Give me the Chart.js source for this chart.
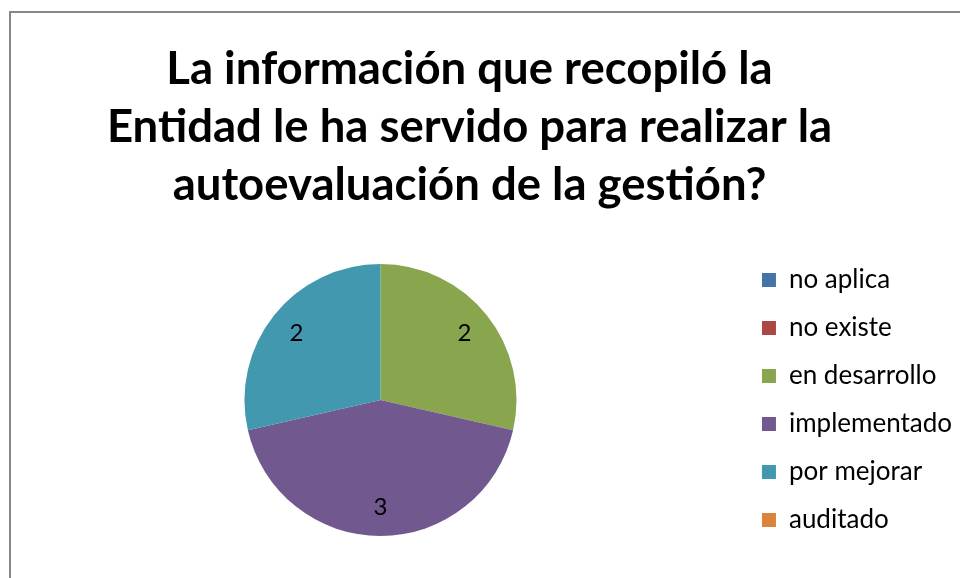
<!DOCTYPE html>
<html><head><meta charset="utf-8">
<script src="https://cdn.jsdelivr.net/npm/chart.js@4/dist/chart.umd.min.js"></script>
<style>
html,body{margin:0;padding:0;background:#fff;overflow:hidden;}
#wrap{position:relative;width:960px;height:578px;overflow:hidden;}
#frame{position:absolute;left:9px;top:11px;width:1000px;height:600px;border:2px solid #878787;box-sizing:border-box;pointer-events:none;}
#c{position:absolute;left:0;top:0;}
</style></head>
<body>
<div id="wrap"><canvas id="c" width="960" height="578"></canvas><div id="frame"></div></div>
<script>
const titleLines = ["La información que recopiló la", "Entidad le ha servido para realizar la", "autoevaluación de la gestión?"];
const categories = ["no aplica", "no existe", "en desarrollo", "implementado", "por mejorar", "auditado"];
const values = [0, 0, 2, 3, 2, 0];
const colors = ["#4572A7", "#AA4643", "#89A54E", "#71588F", "#4198AF", "#DB843D"];

const FONT = "Lato, 'Open Sans', sans-serif";

const dataLabels = {
  id: 'dataLabels',
  afterDatasetsDraw(chart) {
    const ctx = chart.ctx;
    const meta = chart.getDatasetMeta(0);
    ctx.save();
    ctx.font = "24px " + FONT;
    ctx.fillStyle = "#000";
    ctx.textAlign = "center";
    ctx.textBaseline = "middle";
    meta.data.forEach((arc, i) => {
      const v = chart.data.datasets[0].data[i];
      if (!v) return;
      const p = arc.getProps(['x','y','startAngle','endAngle','outerRadius'], true);
      const mid = (p.startAngle + p.endAngle) / 2;
      const d = p.outerRadius * 0.79;
      ctx.fillText(String(v), p.x + Math.cos(mid) * d, p.y + Math.sin(mid) * d);
    });
    ctx.restore();
  }
};

// Excel centres the title over the whole chart frame, not beside the legend
const titleShift = {
  id: 'titleShift',
  afterLayout(chart) {
    const t = chart.titleBlock;
    if (t) { t.left -= 22; t.right -= 22; }
  }
};

new Chart(document.getElementById('c'), {
  type: 'pie',
  data: {
    labels: categories,
    datasets: [{ data: values, backgroundColor: colors, borderWidth: 0, radius: 136 }]
  },
  options: {
    responsive: false,
    animation: false,
    layout: { padding: { left: 21, right: -2, top: 0, bottom: 23 } },
    plugins: {
      title: {
        display: true,
        text: titleLines,
        color: "#000",
        font: { family: FONT, size: 45.5, weight: 'bold', lineHeight: 1.275 },
        padding: { top: 40, bottom: 31 }
      },
      legend: {
        position: 'right',
        align: 'end',
        labels: {
          color: "#000",
          font: { family: FONT, size: 26 },
          boxWidth: 14,
          boxHeight: 14,
          padding: 22
        }
      },
      tooltip: { enabled: false }
    }
  },
  plugins: [dataLabels, titleShift]
});
</script>
</body></html>
